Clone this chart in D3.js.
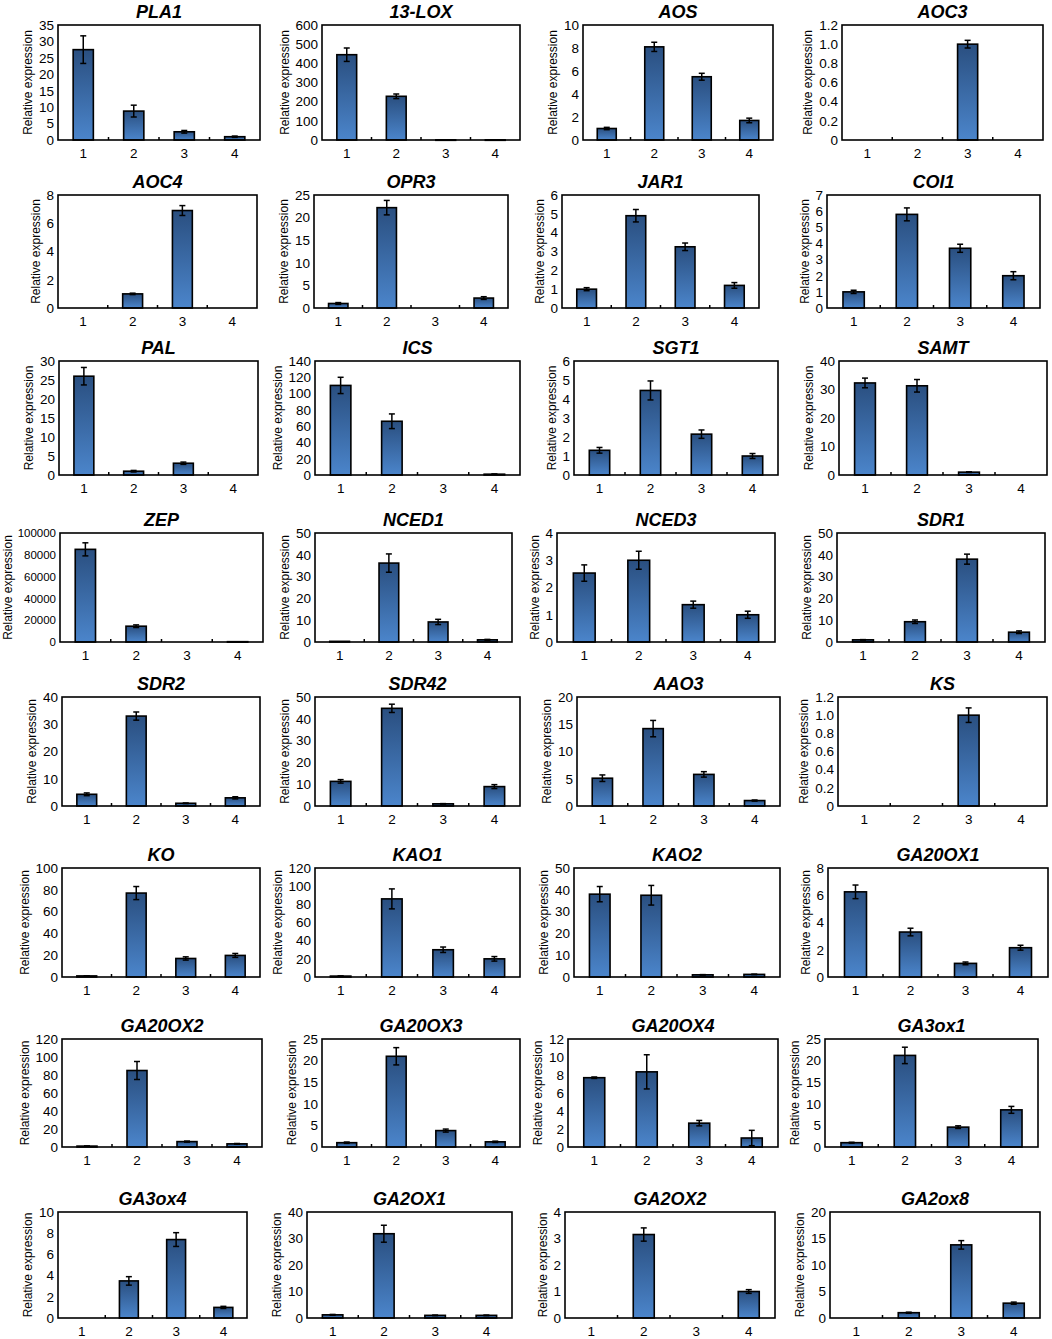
<!DOCTYPE html>
<html>
<head>
<meta charset="utf-8">
<script src="https://cdn.jsdelivr.net/npm/d3@7"></script>
<style>
  body { margin: 0; background: #fff; }
  svg { display: block; }
</style>
</head>
<body>
<svg id="chart" width="1052" height="1339"></svg>
<script>
// samples on the x axis
var categories = ["1", "2", "3", "4"];

// gene names, row by row
var genes = [
  "PLA1", "13-LOX", "AOS", "AOC3",
  "AOC4", "OPR3", "JAR1", "COI1",
  "PAL", "ICS", "SGT1", "SAMT",
  "ZEP", "NCED1", "NCED3", "SDR1",
  "SDR2", "SDR42", "AAO3", "KS",
  "KO", "KAO1", "KAO2", "GA20OX1",
  "GA20OX2", "GA20OX3", "GA20OX4", "GA3ox1",
  "GA3ox4", "GA2OX1", "GA2OX2", "GA2ox8"
];

// y axis top value and tick step for each panel
var yMax = [35, 600, 10, 1.2, 8, 25, 6, 7, 30, 140, 6, 40, 100000, 50, 4, 50,
            40, 50, 20, 1.2, 100, 120, 50, 8, 120, 25, 12, 25, 10, 40, 4, 20];
var yStep = [5, 100, 2, 0.2, 2, 5, 1, 1, 5, 20, 1, 10, 20000, 10, 1, 10,
             10, 10, 5, 0.2, 20, 20, 10, 2, 20, 5, 2, 5, 2, 10, 1, 5];

// mean relative expression for samples 1-4
var values = [
  [27.5, 8.8, 2.5, 1.0], [445, 228, 1, 1], [1.0, 8.1, 5.5, 1.7], [0, 0, 1.0, 0],
  [0, 1.0, 6.9, 0], [1.0, 22.2, 0, 2.2], [1.0, 4.9, 3.25, 1.2], [1.0, 5.8, 3.7, 2.0],
  [26, 1.0, 3.1, 0], [110, 66, 0, 1], [1.3, 4.45, 2.15, 1.0], [32.3, 31.3, 1.0, 0],
  [85000, 14500, 0, 300], [0.3, 36.2, 9.2, 1.0], [2.53, 3.0, 1.37, 1.0], [1.0, 9.3, 38, 4.5],
  [4.3, 33, 1.0, 3.0], [11.3, 44.8, 1.0, 8.9], [5.1, 14.2, 5.8, 1.0], [0, 0, 1.0, 0],
  [1.0, 77, 17, 19.8], [1.0, 86, 30, 20], [38, 37.5, 1.0, 1.2], [6.25, 3.3, 1.0, 2.15],
  [1.0, 85, 6, 3.5], [1.0, 21, 3.8, 1.2], [7.7, 8.35, 2.65, 1.0], [1.0, 21.2, 4.6, 8.6],
  [0, 3.5, 7.4, 1.0], [1.2, 31.8, 1.0, 1.0], [0, 3.15, 0, 1.0], [0, 1.0, 13.8, 2.8]
];

// error (+/-) for each bar
var errors = [
  [4.2, 1.8, 0.4, 0.2], [35, 12, 0, 0], [0.1, 0.4, 0.3, 0.2], [0, 0, 0.04, 0],
  [0, 0.05, 0.35, 0], [0.2, 1.6, 0, 0.3], [0.08, 0.33, 0.2, 0.15], [0.1, 0.4, 0.25, 0.25],
  [2.3, 0.2, 0.3, 0], [10, 9, 0, 0.2], [0.15, 0.5, 0.22, 0.13], [1.7, 2.2, 0.1, 0],
  [6000, 1200, 0, 0], [0, 4.2, 1.2, 0.2], [0.3, 0.33, 0.13, 0.13], [0.1, 0.8, 2.3, 0.6],
  [0.5, 1.5, 0.1, 0.4], [0.8, 1.9, 0.1, 0.9], [0.6, 1.5, 0.5, 0.1], [0, 0, 0.08, 0],
  [0.1, 6, 1.5, 1.8], [0.1, 11, 3, 2.5], [3.5, 4.5, 0.1, 0.1], [0.5, 0.28, 0.1, 0.18],
  [0.1, 10, 0.6, 0.4], [0.15, 2, 0.35, 0.15], [0.08, 1.9, 0.3, 0.85], [0.1, 1.9, 0.3, 0.8],
  [0, 0.4, 0.65, 0.1], [0.15, 3.2, 0.1, 0.1], [0, 0.25, 0, 0.07], [0, 0.1, 0.8, 0.2]
];

// layout of the plot boxes
var rowTop = [25, 195, 361, 533, 697, 868, 1039, 1212];
var rowBottom = [140, 308, 475, 642, 806, 977, 1147, 1318];
var boxLeft = [58, 322, 583, 842, 58, 314, 562, 827, 59, 315, 574, 839, 60, 315, 557, 837,
               62, 315, 577, 838, 62, 315, 574, 828, 62, 322, 568, 825, 58, 307, 565, 830];
var boxRight = [260, 520, 773, 1043, 257, 508, 759, 1040, 258, 520, 778, 1047, 263, 512, 775, 1045,
                260, 520, 780, 1047, 260, 520, 780, 1048, 262, 520, 778, 1038, 247, 512, 775, 1040];

var svg = d3.select("#chart");
var FONT = "'Liberation Sans', Arial, sans-serif";

var defs = svg.append("defs");
var grad = defs.append("linearGradient")
  .attr("id", "barFill")
  .attr("x1", 0).attr("y1", 0).attr("x2", 0).attr("y2", 1);
grad.append("stop").attr("offset", "0%").attr("stop-color", "#2a4f80");
grad.append("stop").attr("offset", "100%").attr("stop-color", "#4b85cb");

function drawPanel(i) {
  var row = Math.floor(i / 4);
  var left = boxLeft[i], right = boxRight[i];
  var top = rowTop[row], bottom = rowBottom[row];

  var g = svg.append("g").attr("class", "panel");

  var x = d3.scaleBand().domain(categories).range([left, right]).paddingInner(0.6).paddingOuter(0.3);
  var y = d3.scaleLinear().domain([0, yMax[i]]).range([bottom, top]);

  var tickVals = d3.range(0, yMax[i] + yStep[i] / 2, yStep[i]);
  var fmt = yStep[i] < 1 ? function(d) { return d === 0 ? "0" : d3.format(".1f")(d); } : d3.format("d");
  // long numbers were set smaller in the original
  var tickFont = yMax[i] >= 10000 ? "11.5px" : "13.5px";

  // y axis labels
  var yAxis = g.append("g")
    .attr("transform", "translate(" + left + ",0)")
    .call(d3.axisLeft(y).tickValues(tickVals).tickFormat(fmt).tickSize(0).tickPadding(4));
  yAxis.select(".domain").remove();
  yAxis.selectAll("text").style("font-family", FONT).style("font-size", tickFont).attr("fill", "#000");

  // x axis labels
  var xAxis = g.append("g")
    .attr("transform", "translate(0," + bottom + ")")
    .call(d3.axisBottom(x).tickSize(0).tickPadding(8));
  xAxis.select(".domain").remove();
  xAxis.selectAll("text").style("font-family", FONT).style("font-size", "13.5px").attr("fill", "#000");

  // small tick marks between categories
  var step = x.step();
  var bounds = categories.slice(1).map(function(c) { return x(c) - (step - x.bandwidth()) / 2; });
  g.selectAll("line.sep").data(bounds).enter().append("line")
    .attr("x1", function(d) { return d; }).attr("x2", function(d) { return d; })
    .attr("y1", bottom).attr("y2", bottom - 3)
    .attr("stroke", "#000").attr("stroke-width", 1.5);

  // bars
  var rows = categories.map(function(c, k) { return { c: c, v: values[i][k], e: errors[i][k] }; });
  g.selectAll("rect.bar").data(rows.filter(function(d) { return d.v > 0; })).enter().append("rect")
    .attr("x", function(d) { return x(d.c); })
    .attr("width", x.bandwidth())
    .attr("y", function(d) { return y(d.v); })
    .attr("height", function(d) { return Math.max(0.5, bottom - y(d.v)); })
    .attr("fill", "url(#barFill)")
    .attr("stroke", "#000")
    .attr("stroke-width", 1.6);

  // error bars
  var eb = rows.filter(function(d) { return d.e > 0; });
  var cap = 3;
  eb.forEach(function(d) {
    var cx = x(d.c) + x.bandwidth() / 2;
    var y1 = y(d.v + d.e), y2 = y(Math.max(0, d.v - d.e));
    g.append("line").attr("x1", cx).attr("x2", cx).attr("y1", y1).attr("y2", y2)
      .attr("stroke", "#000").attr("stroke-width", 1.5);
    [y1, y2].forEach(function(yy) {
      g.append("line").attr("x1", cx - cap).attr("x2", cx + cap).attr("y1", yy).attr("y2", yy)
        .attr("stroke", "#000").attr("stroke-width", 1.5);
    });
  });

  // frame
  g.append("rect")
    .attr("x", left).attr("y", top)
    .attr("width", right - left).attr("height", bottom - top)
    .attr("fill", "none").attr("stroke", "#000").attr("stroke-width", 1.6);

  // y label placed left of the tick labels
  var minX = d3.min(yAxis.selectAll("text").nodes(), function(n) { return n.getBBox().x; }) + left;
  var lx = Math.max(8, minX - 11);
  g.append("text")
    .attr("transform", "translate(" + lx + "," + ((top + bottom) / 2) + ") rotate(-90)")
    .attr("text-anchor", "middle")
    .attr("dy", "0.35em")
    .style("font-family", FONT).style("font-size", "12px")
    .text("Relative expression");

  // title
  g.append("text")
    .attr("x", (left + right) / 2).attr("y", top - 7)
    .attr("text-anchor", "middle")
    .style("font-family", FONT).style("font-size", "18px")
    .style("font-weight", "bold").style("font-style", "italic")
    .text(genes[i]);
}

genes.forEach(function(name, i) { drawPanel(i); });
</script>
</body>
</html>
